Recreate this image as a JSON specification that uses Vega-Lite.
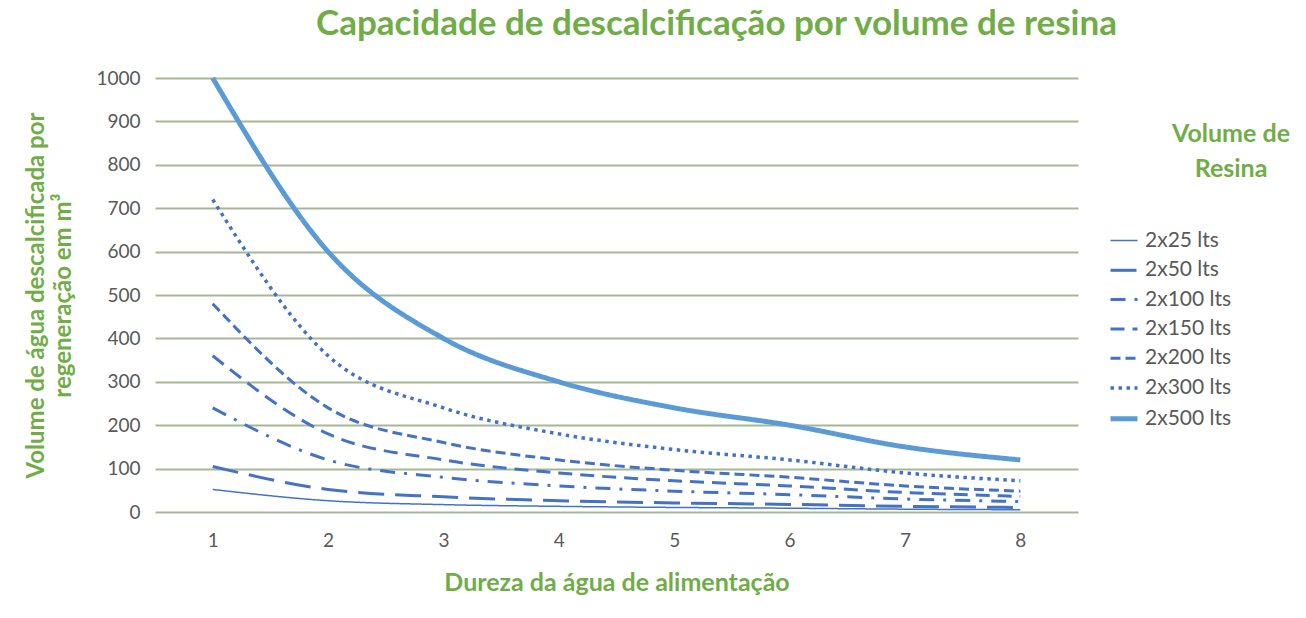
{
  "$schema": "https://vega.github.io/schema/vega-lite/v6.json",
  "autosize": "none",
  "width": 923,
  "height": 434,
  "padding": {"left": 155, "top": 78, "right": 228, "bottom": 106},
  "background": "white",
  "title": {
    "text": "Capacidade de descalcificação por volume de resina",
    "font": "Lato",
    "fontSize": 35,
    "fontWeight": "bold",
    "color": "#70AD47",
    "anchor": "middle",
    "dx": 100,
    "offset": 26
  },
  "config": {
    "view": {"stroke": null},
    "axis": {"labelFont": "Lato", "titleFont": "Lato"}
  },
  "data": {
    "values": [
      {"s": "2x25 lts", "d": "1", "v": 52}, {"s": "2x25 lts", "d": "2", "v": 26}, {"s": "2x25 lts", "d": "3", "v": 17}, {"s": "2x25 lts", "d": "4", "v": 13}, {"s": "2x25 lts", "d": "5", "v": 10.5}, {"s": "2x25 lts", "d": "6", "v": 8.7}, {"s": "2x25 lts", "d": "7", "v": 6.5}, {"s": "2x25 lts", "d": "8", "v": 5.2},
      {"s": "2x50 lts", "d": "1", "v": 105}, {"s": "2x50 lts", "d": "2", "v": 52}, {"s": "2x50 lts", "d": "3", "v": 35}, {"s": "2x50 lts", "d": "4", "v": 26}, {"s": "2x50 lts", "d": "5", "v": 21}, {"s": "2x50 lts", "d": "6", "v": 17.5}, {"s": "2x50 lts", "d": "7", "v": 13}, {"s": "2x50 lts", "d": "8", "v": 10.5},
      {"s": "2x100 lts", "d": "1", "v": 240}, {"s": "2x100 lts", "d": "2", "v": 120}, {"s": "2x100 lts", "d": "3", "v": 80}, {"s": "2x100 lts", "d": "4", "v": 60}, {"s": "2x100 lts", "d": "5", "v": 48}, {"s": "2x100 lts", "d": "6", "v": 40}, {"s": "2x100 lts", "d": "7", "v": 30}, {"s": "2x100 lts", "d": "8", "v": 24},
      {"s": "2x150 lts", "d": "1", "v": 360}, {"s": "2x150 lts", "d": "2", "v": 180}, {"s": "2x150 lts", "d": "3", "v": 120}, {"s": "2x150 lts", "d": "4", "v": 90}, {"s": "2x150 lts", "d": "5", "v": 72}, {"s": "2x150 lts", "d": "6", "v": 60}, {"s": "2x150 lts", "d": "7", "v": 45}, {"s": "2x150 lts", "d": "8", "v": 36},
      {"s": "2x200 lts", "d": "1", "v": 480}, {"s": "2x200 lts", "d": "2", "v": 240}, {"s": "2x200 lts", "d": "3", "v": 160}, {"s": "2x200 lts", "d": "4", "v": 120}, {"s": "2x200 lts", "d": "5", "v": 96}, {"s": "2x200 lts", "d": "6", "v": 80}, {"s": "2x200 lts", "d": "7", "v": 60}, {"s": "2x200 lts", "d": "8", "v": 48},
      {"s": "2x300 lts", "d": "1", "v": 720}, {"s": "2x300 lts", "d": "2", "v": 360}, {"s": "2x300 lts", "d": "3", "v": 240}, {"s": "2x300 lts", "d": "4", "v": 180}, {"s": "2x300 lts", "d": "5", "v": 144}, {"s": "2x300 lts", "d": "6", "v": 120}, {"s": "2x300 lts", "d": "7", "v": 90}, {"s": "2x300 lts", "d": "8", "v": 72},
      {"s": "2x500 lts", "d": "1", "v": 1000}, {"s": "2x500 lts", "d": "2", "v": 600}, {"s": "2x500 lts", "d": "3", "v": 400}, {"s": "2x500 lts", "d": "4", "v": 300}, {"s": "2x500 lts", "d": "5", "v": 240}, {"s": "2x500 lts", "d": "6", "v": 200}, {"s": "2x500 lts", "d": "7", "v": 150}, {"s": "2x500 lts", "d": "8", "v": 120}
    ]
  },
  "mark": {"type": "line", "interpolate": "monotone", "strokeCap": "butt"},
  "encoding": {
    "x": {
      "field": "d",
      "type": "ordinal",
      "scale": {"type": "point", "padding": 0.5},
      "axis": {
        "title": "Dureza da água de alimentação",
        "titleColor": "#70AD47",
        "titleFontSize": 25,
        "titleFontWeight": "bold",
        "titlePadding": 20,
        "labelAngle": 0,
        "labelColor": "#595959",
        "labelFontSize": 19,
        "labelPadding": 19,
        "domain": false,
        "ticks": false,
        "grid": false
      }
    },
    "y": {
      "field": "v",
      "type": "quantitative",
      "scale": {"domain": [0, 1000], "nice": false},
      "axis": {
        "values": [0, 100, 200, 300, 400, 500, 600, 700, 800, 900, 1000],
        "format": "d",
        "title": ["Volume de água descalcificada por", "regeneração em m³"],
        "titleColor": "#70AD47",
        "titleFontSize": 24,
        "titleFontWeight": "bold",
        "titleLineHeight": 27,
        "titlePadding": 20,
        "labelColor": "#595959",
        "labelFontSize": 19,
        "labelPadding": 15,
        "domain": false,
        "ticks": false,
        "grid": true,
        "gridColor": "#A7B796",
        "gridWidth": 2
      }
    },
    "color": {
      "field": "s",
      "type": "nominal",
      "scale": {
        "type": "ordinal",
        "domain": ["2x25 lts", "2x50 lts", "2x100 lts", "2x150 lts", "2x200 lts", "2x300 lts", "2x500 lts"],
        "range": ["#4472C4", "#4472C4", "#4472C4", "#4472C4", "#4472C4", "#4472C4", "#5B9BD5"]
      },
      "legend": {
        "title": ["Volume de", "Resina"],
        "orient": "none",
        "legendX": 953,
        "legendY": 44,
        "padding": 0,
        "titleFont": "Lato",
        "titleFontSize": 25,
        "titleFontWeight": "bold",
        "titleColor": "#70AD47",
        "titleLineHeight": 35,
        "titleAnchor": "end",
        "titleAlign": "center",
        "titlePadding": 44,
        "labelFont": "Lato",
        "labelFontSize": 21,
        "labelColor": "#595959",
        "labelOffset": 5,
        "symbolType": "stroke",
        "symbolSize": 729,
        "rowPadding": 4.3
      }
    },
    "strokeDash": {
      "field": "s",
      "type": "nominal",
      "scale": {
        "type": "ordinal",
        "domain": ["2x25 lts", "2x50 lts", "2x100 lts", "2x150 lts", "2x200 lts", "2x300 lts", "2x500 lts"],
        "range": [[1, 0], [26, 11], [15, 9, 3, 9], [14, 8], [10, 5], [3.5, 4.5], [1, 0]]
      }
    },
    "strokeWidth": {
      "field": "s",
      "type": "nominal",
      "scale": {
        "type": "ordinal",
        "domain": ["2x25 lts", "2x50 lts", "2x100 lts", "2x150 lts", "2x200 lts", "2x300 lts", "2x500 lts"],
        "range": [1.5, 3, 3, 3, 3, 3.5, 5]
      }
    }
  }
}
